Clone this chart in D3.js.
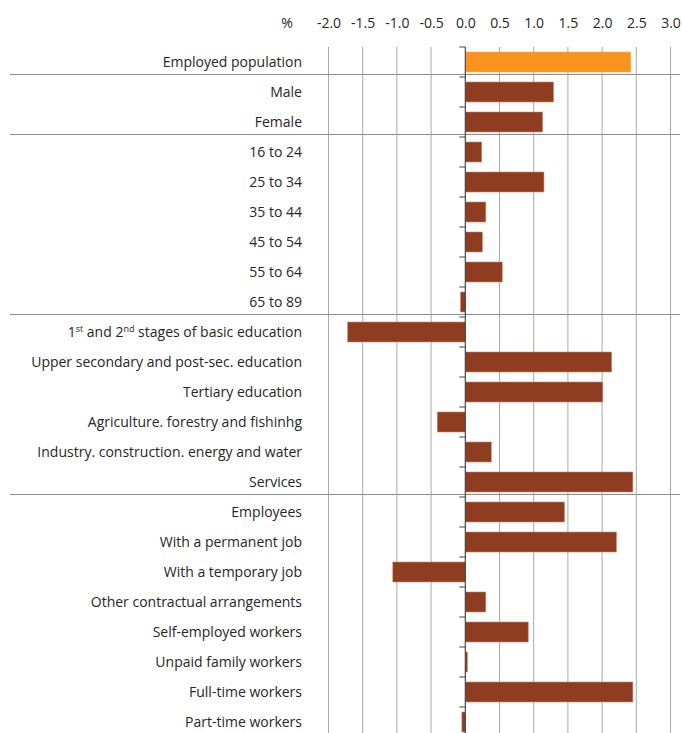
<!DOCTYPE html>
<html>
<head>
<meta charset="utf-8">
<script src="https://cdn.jsdelivr.net/npm/d3@7"></script>
<style>
  body { margin: 0; background: #fff; }
  svg text { font-family: "Open Sans", "Liberation Sans", sans-serif; fill: #262626; }
</style>
</head>
<body>
<svg width="682" height="733"></svg>
<script>
  const categories = ['Employed population', 'Male', 'Female', '16 to 24', '25 to 34', '35 to 44',
    '45 to 54', '55 to 64', '65 to 89', '1st and 2nd stages of basic education',
    'Upper secondary and post-sec. education', 'Tertiary education',
    'Agriculture. forestry and fishinhg', 'Industry. construction. energy and water', 'Services',
    'Employees', 'With a permanent job', 'With a temporary job', 'Other contractual arrangements',
    'Self-employed workers', 'Unpaid family workers', 'Full-time workers', 'Part-time workers'];

  const values = [2.42, 1.29, 1.13, 0.24, 1.15, 0.30, 0.25, 0.54, -0.07, -1.72, 2.14, 2.01,
    -0.41, 0.38, 2.45, 1.45, 2.21, -1.06, 0.30, 0.92, 0.03, 2.45, -0.05];

  const tickValues = [-2.0, -1.5, -1.0, -0.5, 0.0, 0.5, 1.0, 1.5, 2.0, 2.5, 3.0];

  // rows after which a group separator is drawn
  const groupEnds = ['Employed population', 'Female', '65 to 89', 'Services'];

  const data = categories.map((c, i) => ({ cat: c, value: values[i] }));

  const svg = d3.select('svg');

  const xScale = d3.scaleLinear()
    .domain([-2, 3])
    .range([328.5, 670.5]);

  const yScale = d3.scaleBand()
    .domain(categories)
    .range([47, 737])
    .paddingInner(1 / 3)
    .paddingOuter(1 / 6);

  const step = yScale.step();
  const rowTop = c => yScale(c) - yScale.paddingInner() * step / 2;

  // vertical gridlines
  svg.append('g').selectAll('line').data(tickValues)
    .enter().append('line')
      .attr('x1', d => xScale(d))
      .attr('x2', d => xScale(d))
      .attr('y1', 47)
      .attr('y2', 733)
      .attr('stroke', '#a8a8a8')
      .attr('stroke-width', 1);

  // top tick labels (plain hyphen for negatives, as in the source)
  const xAxis = d3.axisTop(xScale)
    .tickValues(tickValues)
    .tickFormat(d => d.toFixed(1))
    .tickSize(0)
    .tickPadding(0);

  const xAxisG = svg.append('g')
    .attr('transform', 'translate(0,28)')
    .call(xAxis);
  xAxisG.select('.domain').remove();
  xAxisG.selectAll('text')
    .attr('font-size', 14)
    .style('font-family', '"Open Sans", sans-serif')
    .attr('fill', '#262626');

  svg.append('text')
    .attr('x', 287)
    .attr('y', 28)
    .attr('text-anchor', 'middle')
    .attr('font-size', 14)
    .text('%');

  // group separators
  svg.append('g').selectAll('line').data(groupEnds)
    .enter().append('line')
      .attr('x1', 10)
      .attr('x2', 680)
      .attr('y1', d => rowTop(d) + step - 2.5)
      .attr('y2', d => rowTop(d) + step - 2.5)
      .attr('stroke', '#8c8c8c')
      .attr('stroke-width', 1.2);

  // bars
  svg.append('g').selectAll('rect').data(data)
    .enter().append('rect')
      .attr('x', d => xScale(Math.min(0, d.value)))
      .attr('y', d => yScale(d.cat))
      .attr('width', d => Math.abs(xScale(d.value) - xScale(0)))
      .attr('height', yScale.bandwidth())
      .attr('fill', (d, i) => i === 0 ? '#f7931e' : '#8f3d21')
      .attr('stroke', (d, i) => i === 0 ? '#f9b060' : '#c98a72')
      .attr('stroke-width', 0.6);

  // zero axis with category ticks
  const x0 = xScale(0);
  svg.append('line')
    .attr('x1', x0).attr('x2', x0)
    .attr('y1', 47).attr('y2', 733)
    .attr('stroke', '#404040')
    .attr('stroke-width', 1);

  svg.append('g').selectAll('line').data(categories)
    .enter().append('line')
      .attr('x1', x0 - 6)
      .attr('x2', x0)
      .attr('y1', d => rowTop(d))
      .attr('y2', d => rowTop(d))
      .attr('stroke', '#404040')
      .attr('stroke-width', 1);

  // category labels
  const labels = svg.append('g').selectAll('text').data(categories)
    .enter().append('text')
      .attr('x', 302)
      .attr('y', d => yScale(d) + yScale.bandwidth() / 2 + 5)
      .attr('text-anchor', 'end')
      .attr('font-size', 14);

  labels.each(function(d) {
    const t = d3.select(this);
    if (d.startsWith('1st and 2nd')) {
      t.append('tspan').text('1');
      t.append('tspan').text('st').attr('font-size', 9).attr('dy', -5);
      t.append('tspan').text(' and 2').attr('dy', 5);
      t.append('tspan').text('nd').attr('font-size', 9).attr('dy', -5);
      t.append('tspan').text(' stages of basic education').attr('dy', 5);
    } else {
      t.text(d);
    }
  });
</script>
</body>
</html>
